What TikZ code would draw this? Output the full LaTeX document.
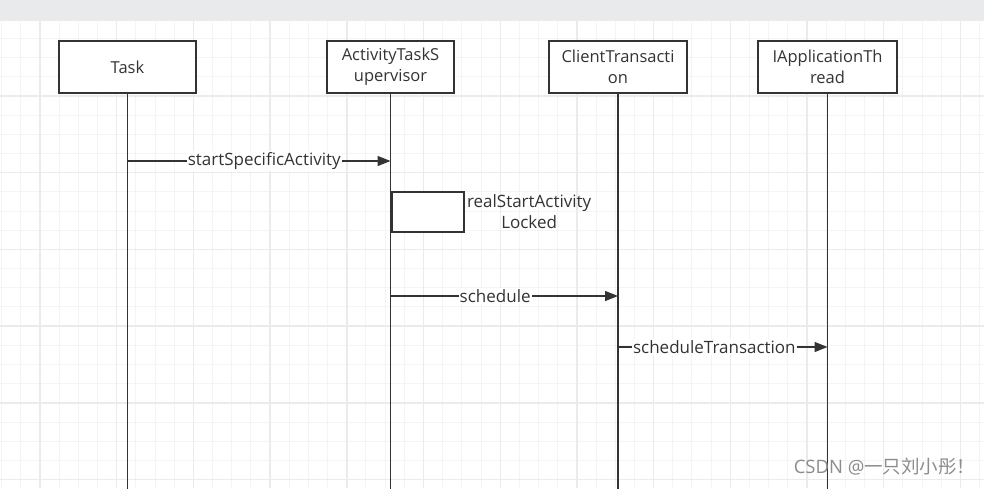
\documentclass[tikz,border=0pt]{standalone}
\usepackage{fontspec}
\setmainfont{Open Sans}
\newfontfamily\cjkfont{Noto Sans CJK SC}
\usetikzlibrary{arrows.meta,positioning}

\definecolor{linegray}{HTML}{333333}
\definecolor{textgray}{HTML}{333333}
\definecolor{topbar}{HTML}{E9EAEC}
\definecolor{minorgrid}{HTML}{F4F4F4}
\definecolor{majorgrid}{HTML}{EBEBEB}
\definecolor{markgray}{HTML}{8C8C8C}

\tikzset{
  objbox/.style={draw=linegray, line width=1.6pt, fill=white, minimum height=52pt,
    inner sep=0pt, align=center, text=textgray, font=\fontsize{16.5}{21}\selectfont},
  lifeline/.style={draw=linegray, line width=1.5pt},
  msg/.style={draw=linegray, line width=1.4pt, -{Triangle[length=13pt,width=10pt]}},
  msglabel/.style={fill=white, inner sep=1pt, text=textgray, font=\fontsize{17}{21}\selectfont},
}

\begin{document}
\begin{tikzpicture}[x=1pt, y=-1pt]
  \useasboundingbox (0,0) rectangle (984,488);
  \fill[white] (0,0) rectangle (984,488);
  % grid
  \foreach \i in {0,...,51}
    \draw[minorgrid, line width=1pt] ({1.65+\i*19.175},21) -- ({1.65+\i*19.175},488);
  \foreach \j in {0,...,24}
    \draw[minorgrid, line width=1pt] (0,{38.5+\j*19.175}) -- (984,{38.5+\j*19.175});
  \foreach \i in {0,...,12}
    \draw[majorgrid, line width=1.4pt] ({40+\i*76.7},21) -- ({40+\i*76.7},488);
  \foreach \j in {0,...,5}
    \draw[majorgrid, line width=1.4pt] (0,{96+\j*76.7}) -- (984,{96+\j*76.7});
  \fill[topbar] (0,0) rectangle (984,21);

  % objects
  \node[objbox, minimum width=137pt] (task) at (127.5,67) {Task};
  \node[objbox, minimum width=127pt] (sup) at (390.5,67) {ActivityTaskS\\upervisor};
  \node[objbox, minimum width=138pt] (client) at (618,67) {ClientTransacti\\on};
  \node[objbox, minimum width=139pt] (appthread) at (827.5,67) {IApplicationTh\\read};

  % lifelines
  \coordinate (bottom) at (0,490);
  \foreach \n in {task, sup, client, appthread}
    \draw[lifeline] (\n.south) -- (\n|-bottom);

  % messages
  \coordinate (m1) at (0,161);
  \coordinate (m2) at (0,296);
  \coordinate (m3) at (0,347);
  \draw[msg] (task|-m1) -- node[msglabel, pos=0.52] {startSpecificActivity} (sup|-m1);

  \node[draw=linegray, line width=1.5pt, fill=white, minimum width=72pt, minimum height=40pt,
    anchor=north west] (selfbox) at (391,191) {};
  \node[align=center, text=textgray, font=\fontsize{17}{21}\selectfont, right=-1pt of selfbox]
    (selflabel) {realStartActivity\\Locked};

  \draw[msg] (sup|-m2) -- node[msglabel, pos=0.46] {schedule} (client|-m2);
  \draw[msg] (client|-m3) -- node[msglabel, pos=0.46] {scheduleTransaction} (appthread|-m3);

  % watermark
  \node[anchor=east, text=markgray, font=\fontsize{18.5}{22}\selectfont] (mark) at (979,467)
    {CSDN @{\cjkfont 一只刘小彤！}};
\end{tikzpicture}
\end{document}
